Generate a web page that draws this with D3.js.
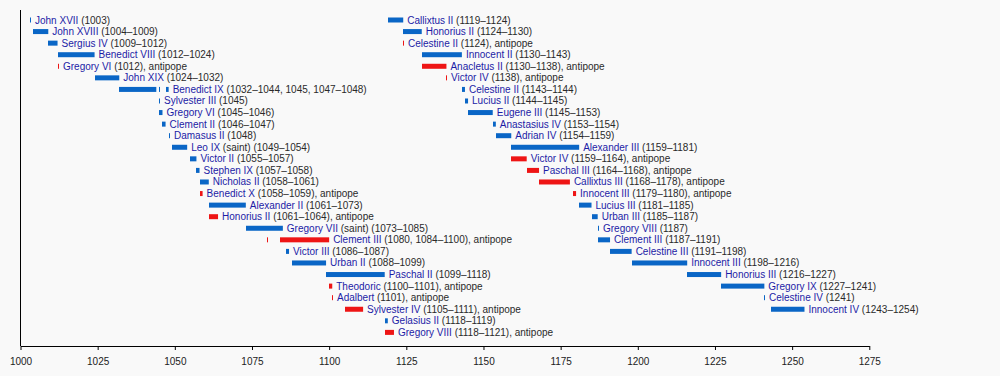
<!DOCTYPE html>
<html>
<head>
<meta charset="utf-8">
<script src="https://cdn.jsdelivr.net/npm/d3@7"></script>
<style>
  html, body { margin: 0; padding: 0; background: #f9f9f9; }
  svg { display: block; font-family: "Liberation Sans", Arial, sans-serif; }
</style>
</head>
<body>
<script>
const WIDTH = 1000;
const HEIGHT = 376;

const BAR_HEIGHT = 5;
const ROW_STEP = 11.57;
const FIRST_ROW = 20;
const LEFT_ROWS = 28; // rows before the list wraps to the top again

// one entry per row, in order
const names = [
  "John XVII", "John XVIII", "Sergius IV", "Benedict VIII", "Gregory VI", "John XIX",
  "Benedict IX", "Sylvester III", "Gregory VI", "Clement II", "Damasus II", "Leo IX",
  "Victor II", "Stephen IX", "Nicholas II", "Benedict X", "Alexander II", "Honorius II",
  "Gregory VII", "Clement III", "Victor III", "Urban II", "Paschal II", "Theodoric",
  "Adalbert", "Sylvester IV", "Gelasius II", "Gregory VIII",
  "Callixtus II", "Honorius II", "Celestine II", "Innocent II", "Anacletus II", "Victor IV",
  "Celestine II", "Lucius II", "Eugene III", "Anastasius IV", "Adrian IV", "Alexander III",
  "Victor IV", "Paschal III", "Callixtus III", "Innocent III", "Lucius III", "Urban III",
  "Gregory VIII", "Clement III", "Celestine III", "Innocent III", "Honorius III", "Gregory IX",
  "Celestine IV", "Innocent IV"
];

const reigns = [
  [[1003, 1003]], [[1004, 1009]], [[1009, 1012]], [[1012, 1024]], [[1012, 1012]], [[1024, 1032]],
  [[1032, 1044], [1045, 1045], [1047, 1048]], [[1045, 1045]], [[1045, 1046]], [[1046, 1047]],
  [[1048, 1048]], [[1049, 1054]],
  [[1055, 1057]], [[1057, 1058]], [[1058, 1061]], [[1058, 1059]], [[1061, 1073]], [[1061, 1064]],
  [[1073, 1085]], [[1080, 1080], [1084, 1100]], [[1086, 1087]], [[1088, 1099]], [[1099, 1118]],
  [[1100, 1101]], [[1101, 1101]], [[1105, 1111]], [[1118, 1119]], [[1118, 1121]],
  [[1119, 1124]], [[1124, 1130]], [[1124, 1124]], [[1130, 1143]], [[1130, 1138]], [[1138, 1138]],
  [[1143, 1144]], [[1144, 1145]], [[1145, 1153]], [[1153, 1154]], [[1154, 1159]], [[1159, 1181]],
  [[1159, 1164]], [[1164, 1168]], [[1168, 1178]], [[1179, 1180]], [[1181, 1185]], [[1185, 1187]],
  [[1187, 1187]], [[1187, 1191]], [[1191, 1198]], [[1198, 1216]], [[1216, 1227]], [[1227, 1241]],
  [[1241, 1241]], [[1243, 1254]]
];

// row indexes of antipopes and saints
const antipopes = [4, 15, 17, 19, 23, 24, 25, 27, 30, 32, 33, 40, 41, 42, 43];
const saints = [11, 18];

const tickYears = [1000, 1025, 1050, 1075, 1100, 1125, 1150, 1175, 1200, 1225, 1250, 1275];

const COLOR_POPE = "#0a66c6";
const COLOR_ANTIPOPE = "#ee1515";
const COLOR_NAME = "#1c1ca6";
const COLOR_TEXT = "#2a2a2a";

var svg = d3.select("body").append("svg")
  .attr("width", WIDTH)
  .attr("height", HEIGHT);

var x = d3.scaleLinear().domain([1000, 1275]).range([20.5, 869.3]);
var y = d3.scaleLinear().domain([0, 1]).range([FIRST_ROW, FIRST_ROW + ROW_STEP]);

function rowY(i) {
  return y(i < LEFT_ROWS ? i : i - LEFT_ROWS);
}

function yearText(spans) {
  return spans.map(function(s) {
    return s[0] == s[1] ? "" + s[0] : s[0] + "\u2013" + s[1];
  }).join(", ");
}

var rows = names.map(function(name, i) {
  return {
    name: name,
    spans: reigns[i],
    anti: antipopes.indexOf(i) >= 0,
    saint: saints.indexOf(i) >= 0,
    y: rowY(i)
  };
});

// bars
var bars = [];
rows.forEach(function(r) {
  r.spans.forEach(function(s) {
    bars.push({ start: s[0], end: s[1], anti: r.anti, y: r.y });
  });
});

svg.append("g").selectAll("rect")
  .data(bars)
  .enter().append("rect")
  .attr("x", function(d) { return Math.round(x(d.start)); })
  .attr("y", function(d) { return d.y - BAR_HEIGHT / 2; })
  .attr("width", function(d) { return Math.max(1, x(d.end) - Math.round(x(d.start))); })
  .attr("height", BAR_HEIGHT)
  .attr("fill", function(d) { return d.anti ? COLOR_ANTIPOPE : COLOR_POPE; });

// labels
var labels = svg.append("g")
  .attr("font-size", 10)
  .selectAll("text")
  .data(rows)
  .enter().append("text")
  .attr("x", function(d) {
    var last = d.spans[d.spans.length - 1];
    return Math.max(x(last[1]), Math.round(x(last[0])) + 1) + 4;
  })
  .attr("y", function(d) { return d.y; })
  .attr("dy", "0.35em");

labels.append("tspan")
  .attr("fill", COLOR_NAME)
  .text(function(d) { return d.name; });

labels.append("tspan")
  .attr("fill", COLOR_TEXT)
  .text(function(d) {
    return (d.saint ? " (saint)" : "") + " (" + yearText(d.spans) + ")" + (d.anti ? ", antipope" : "");
  });

// axes
var axisY = 346;

svg.append("line")
  .attr("x1", x(1000)).attr("x2", x(1000))
  .attr("y1", 10).attr("y2", axisY)
  .attr("stroke", "#000");

var xAxis = svg.append("g")
  .attr("transform", "translate(0," + axisY + ")")
  .call(d3.axisBottom(x).tickValues(tickYears).tickFormat(d3.format("d")).tickSize(4).tickSizeOuter(0));

xAxis.select(".domain").attr("stroke", "#000");
xAxis.selectAll(".tick line").attr("stroke", "#000");
xAxis.selectAll(".tick text")
  .attr("font-family", "Liberation Sans, Arial, sans-serif")
  .attr("font-size", 10)
  .attr("fill", "#222")
  .attr("y", 12);
</script>
</body>
</html>
